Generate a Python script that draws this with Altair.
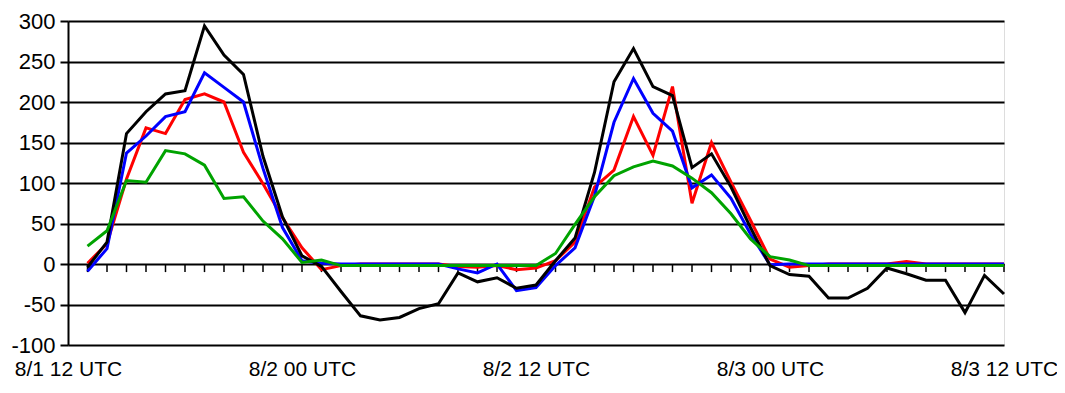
import altair as alt
import pandas as pd

# hourly steps from 8/1 13 UTC (hour 13) to 8/3 12 UTC (hour 60)
hours = list(range(13, 61))

black = [-4, 27, 161, 188, 210, 214, 294, 258, 234, 133, 58, 10, -3, -34, -64, -69,
         -66, -55, -49, -11, -22, -17, -30, -26, 4, 32, 113, 225, 266, 219, 208, 119,
         136, 95, 45, -2, -13, -15, -42, -42, -30, -5, -12, -20, -20, -60, -14, -37]
red = [1, 25, 105, 168, 161, 203, 210, 200, 138, 99, 57, 20, -7, -2, 0, 0,
       0, 0, 0, -3, -4, -2, -7, -5, 4, 27, 95, 116, 182, 134, 219, 75,
       150, 101, 54, 6, -4, -2, 0, 0, 0, 0, 3, 0, 0, 0, 0, 0]
blue = [-9, 19, 137, 158, 182, 188, 236, 218, 200, 118, 45, 4, 1, 0, 0, 0,
        0, 0, 0, -6, -11, 0, -33, -29, -2, 20, 84, 175, 229, 186, 164, 94,
        110, 81, 37, -1, 0, 0, 0, 0, 0, 0, 0, 0, 0, 0, 0, 0]
green = [22, 41, 103, 101, 140, 136, 122, 81, 83, 53, 31, 2, 5, -2, -2, -2,
         -2, -2, -2, -2, -2, -2, -2, -2, 13, 49, 83, 109, 120, 127, 121, 106,
         88, 62, 31, 9, 5, -2, -2, -2, -2, -2, -2, -2, -2, -2, -2, -2]

series_names = ["red", "blue", "black", "green"]
series_colors = ["#ff0000", "#0000ff", "#000000", "#00a300"]
series_values = [red, blue, black, green]

x_tick_values = [12, 24, 36, 48, 60]
x_tick_labels = ["8/1 12 UTC", "8/2 00 UTC", "8/2 12 UTC", "8/3 00 UTC", "8/3 12 UTC"]
y_tick_values = [-100, -50, 0, 50, 100, 150, 200, 250, 300]

rows = []
for name, vals in zip(series_names, series_values):
    for h, v in zip(hours, vals):
        rows.append({"hour": h, "value": v, "series": name})
df = pd.DataFrame(rows)

label_expr = "''"
for v, t in reversed(list(zip(x_tick_values, x_tick_labels))):
    label_expr = f"datum.value == {v} ? '{t}' : ({label_expr})"

y_label_expr = "datum.value < 0 ? '-' + abs(datum.value) : '' + datum.value"

x_enc = alt.X(
    "hour:Q",
    scale=alt.Scale(domain=[12, 60], nice=False, zero=False),
    axis=alt.Axis(
        values=x_tick_values, labelExpr=label_expr, grid=False, ticks=False,
        domain=False, labelFont="Liberation Sans", labelFontSize=21,
        labelPadding=13, labelColor="black", labelFlush=False, labelOverlap=False,
        labelBaseline="top", title=None,
    ),
)
y_enc = alt.Y(
    "value:Q",
    scale=alt.Scale(domain=[-100, 300], nice=False),
    axis=alt.Axis(
        values=y_tick_values, labelExpr=y_label_expr, grid=True, gridColor="black",
        gridWidth=2, gridOpacity=1, domainColor="black", domainWidth=2,
        tickColor="black", tickWidth=2, tickSize=8, labelFont="Liberation Sans",
        labelFontSize=22, labelPadding=5, labelColor="black", title=None,
    ),
)

tick_df = pd.DataFrame({"hour": hours})
ticks = alt.Chart(tick_df).mark_rule(color="black", strokeWidth=1.5).encode(
    x=alt.X("hour:Q"),
    y=alt.datum(0),
    y2=alt.datum(-10),
)

layers = [ticks]
for name, color in zip(series_names, series_colors):
    layers.append(
        alt.Chart(df[df["series"] == name]).mark_line(
            color=color, strokeWidth=3, strokeJoin="miter"
        ).encode(x=x_enc, y=y_enc)
    )

chart = alt.layer(*layers).properties(
    width=936,
    height=324,
    padding={"left": 60, "top": 13, "right": 53, "bottom": 35},
    autosize=alt.AutoSizeParams(type="none"),
).configure_view(stroke=None).configure(background="white")

chart.save("out.html", embed_options={"renderer": "svg", "actions": False})
